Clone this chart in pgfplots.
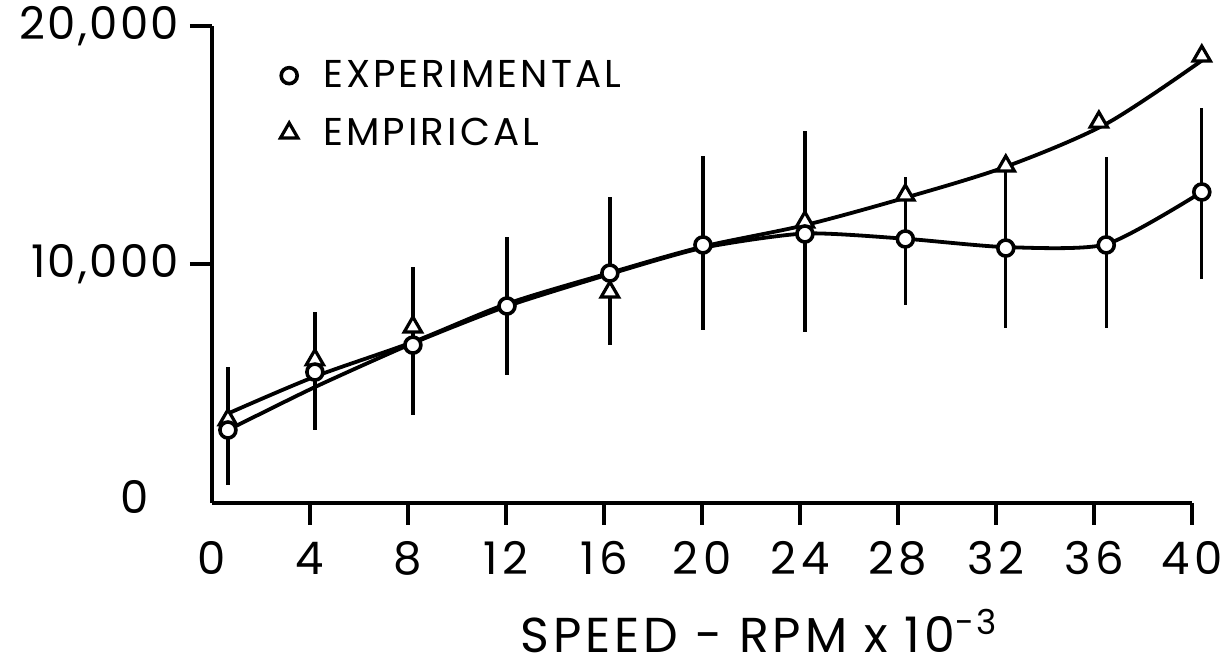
\documentclass[border=0pt]{standalone}
\usepackage{pgfplots}
\pgfplotsset{compat=1.18}
\usepackage{fontspec}
\setmainfont{Poppins}
\newfontfamily\lgfont[LetterSpace=8]{Poppins}
\newfontfamily\tkfont[LetterSpace=10]{Poppins}
\newfontfamily\ytkfont[LetterSpace=5]{Poppins}
\pgfplotsset{mylegimg/.style={legend image code/.code={\draw[##1] plot coordinates {(0pt,0pt)}; \path[draw=none] (-6pt,0pt) -- (15pt,0pt);}}}
\begin{document}
\begin{tikzpicture}
\begin{axis}[
  scale only axis, width=490pt, height=238.5pt,
  xmin=0, xmax=40, ymin=0, ymax=20000,
  clip=false,
  axis x line*=bottom, axis y line*=left,
  axis line style={line width=2.2pt, -},
  tick align=outside,
  major tick length=11pt,
  tick style={line width=2pt, black},
  xtick={4,8,...,40},
  xticklabels={4,8,12,16,20,24,28,32,36,40},
  extra x ticks={0}, extra x tick labels={0},
  extra x tick style={tick style={draw=none}},
  ytick={10000,20000},
  yticklabels={{10,000},{20,000}},
  extra y ticks={0}, extra y tick labels={0},
  extra y tick style={tick style={draw=none}, yticklabel style={xshift=-15pt, yshift=3pt}},
  xticklabel style={anchor=base, yshift=-25pt, font=\tkfont\fontsize{22.5}{22.5}\selectfont},
  yticklabel style={anchor=east, xshift=-2pt, font=\ytkfont\fontsize{22.5}{22.5}\selectfont},
  scaled y ticks=false,
  xlabel={SPEED - RPM x 10\textsuperscript{-3}},
  xlabel style={at={(axis description cs:0,0)}, anchor=base west, inner sep=0pt, text depth=0pt, xshift=154pt, yshift=-75pt, font=\lgfont\fontsize{24.5}{24.5}\selectfont},
  legend style={draw=none, fill=none, at={(axis description cs:0.06,0.945)}, anchor=north west,
    font=\lgfont\fontsize{19.4}{22}\selectfont, row sep=9.5pt},
  legend cell align=left,
]
% curves
\addplot[line width=1.9pt, smooth, tension=0.4, forget plot] coordinates {
(0.65,3060) (4.2,4860) (8.2,6700) (12.04,8250) (16.24,9600) (20.04,10700) (24.2,11300) (28.3,11080) (32.4,10730) (36.5,10850) (40.4,13040)
};
\addplot[line width=1.9pt, smooth, tension=0.5, forget plot] coordinates {
(0.65,3750) (4.2,5300) (8.2,6750) (12.04,8350) (16.24,9650) (20.04,10750) (24.2,11650) (28.3,12800) (32.4,14100) (36.5,15900) (40.4,18550)
};
% error bars of the experimental data
\addplot[only marks, mark=none, forget plot,
  error bars/.cd, y dir=both, y explicit, error mark=none, error bar style={line width=1.7pt}] coordinates {
(0.65,3060) += (0,2640) -= (0,2305)
(4.2,5490) += (0,2510) -= (0,2430)
(8.2,6620) += (0,3280) -= (0,2930)
(12.04,8260) += (0,2890) -= (0,2890)
(16.24,9640) += (0,3190) -= (0,3020)
(20.04,10820) += (0,3730) -= (0,3570)
(24.2,11280) += (0,4320) -= (0,4110)
(28.3,11070) += (0,2600) -= (0,2770)
(32.4,10690) += (0,3510) -= (0,3350)
(36.5,10820) += (0,3680) -= (0,3480)
(40.4,13040) += (0,3520) -= (0,3650)
};
% empirical triangles
\addplot[only marks, mark=triangle*, mark size=5pt, mark options={fill=white, draw=black, line width=1.6pt}, forget plot] coordinates {
(0.65,3490) (4.2,6000) (8.2,7380) (16.24,8850) (24.2,11780) (28.3,12910) (32.4,14130) (36.2,15970) (40.4,18740)
};
% experimental circles
\addplot[only marks, mark=*, mark size=4pt, mark options={fill=white, draw=black, line width=1.8pt}, mylegimg] coordinates {
(0.65,3060) (4.2,5490) (8.2,6620) (12.04,8260) (16.24,9640) (20.04,10820) (24.2,11280) (28.3,11070) (32.4,10690) (36.5,10820) (40.4,13040)
};
\addlegendentry{EXPERIMENTAL}
\addlegendimage{only marks, mark=triangle*, mark size=5pt, mark options={fill=white, draw=black, line width=1.6pt}, mylegimg}
\addlegendentry{EMPIRICAL}
\end{axis}
\pgfresetboundingbox
\path[use as bounding box] (-106pt,-82.5pt) rectangle (508pt,251.5pt);
\end{tikzpicture}
\end{document}
